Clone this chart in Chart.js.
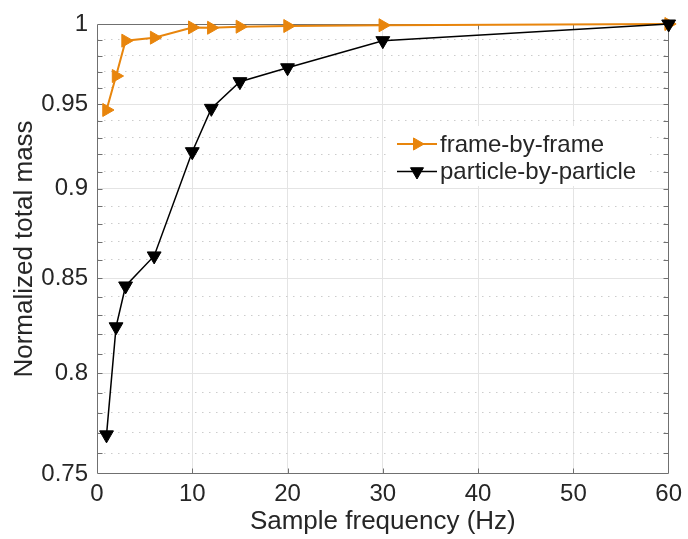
<!DOCTYPE html>
<html>
<head>
<meta charset="utf-8">
<script src="https://cdn.jsdelivr.net/npm/chart.js@4.4.0/dist/chart.umd.min.js"></script>
<style>
  html, body { margin: 0; padding: 0; background: #fff; }
</style>
</head>
<body>
<canvas id="myChart" width="688" height="539"></canvas>
<script>
// Sample frequency (Hz)
const freqs = [1, 2, 3, 6, 10, 12, 15, 20, 30, 60];
// Normalized total mass
const frameByFrame = [0.9465, 0.9673, 0.9894, 0.9913, 0.9978, 0.9976, 0.9983, 0.9987, 0.9992, 1.0];
const particleByParticle = [0.769, 0.824, 0.8458, 0.8622, 0.9216, 0.9475, 0.9638, 0.9724, 0.9894, 1.0];

// Axis ticks
const xTicks = [0, 10, 20, 30, 40, 50, 60];
const yMajor = [0.75, 0.8, 0.85, 0.9, 0.95, 1];
const yLabels = ['0.75', '0.8', '0.85', '0.9', '0.95', '1'];

// minor grid every 0.01 on the y axis
const yGrid = [];
for (let i = 75; i <= 100; i++) yGrid.push(i / 100);

const orange = '#e8850c';
const axisColor = '#707070';
const textColor = '#262626';
const fontFamily = "'Liberation Sans', Arial, Helvetica, sans-serif";

function majorIndex(v) {
    return yMajor.findIndex(m => Math.abs(m - v) < 1e-6);
}

// MATLAB-like box with inward tick marks
const axesBox = {
    id: 'axesBox',
    beforeDatasetsDraw(chart) {
        const { ctx, chartArea: a, scales: { x, y } } = chart;
        const L = Math.round(a.left) + 0.5, R = Math.round(a.right) - 0.5;
        const T = Math.round(a.top) + 0.5, B = Math.round(a.bottom) - 0.5;
        ctx.save();
        ctx.strokeStyle = axisColor;
        ctx.lineWidth = 1;
        ctx.beginPath();
        ctx.rect(L, T, R - L, B - T);
        yGrid.forEach(v => {
            if (v <= 0.75 || v >= 1) return;
            const py = Math.round(y.getPixelForValue(v)) + 0.5;
            ctx.moveTo(L, py); ctx.lineTo(L + 5, py);
            ctx.moveTo(R, py); ctx.lineTo(R - 5, py);
        });
        xTicks.forEach(v => {
            if (v === 0 || v === 60) return;
            const px = Math.round(x.getPixelForValue(v)) + 0.5;
            ctx.moveTo(px, B); ctx.lineTo(px, B - 5);
            ctx.moveTo(px, T); ctx.lineTo(px, T + 5);
        });
        ctx.stroke();
        ctx.restore();
    }
};

// legend drawn inside the axes
const insideLegend = {
    id: 'insideLegend',
    afterDraw(chart) {
        const { ctx } = chart;
        const x0 = 397, y0 = 144, rowH = 27.5;
        ctx.save();
        ctx.fillStyle = '#fff';
        ctx.fillRect(390, 126, 255, 60);
        chart.data.datasets.forEach((ds, i) => {
            const yy = y0 + i * rowH;
            ctx.strokeStyle = ds.borderColor;
            ctx.lineWidth = ds.borderWidth;
            ctx.beginPath();
            ctx.moveTo(x0, yy); ctx.lineTo(x0 + 40, yy);
            ctx.stroke();
            ctx.fillStyle = ds.borderColor;
            ctx.lineWidth = 1;
            Chart.helpers.drawPoint(ctx, {
                pointStyle: 'triangle', rotation: ds.pointRotation,
                radius: ds.pointRadius - 0.5, borderWidth: 1
            }, x0 + 20, yy);
            ctx.fillStyle = textColor;
            ctx.font = '24px ' + fontFamily;
            ctx.textBaseline = 'middle';
            ctx.textAlign = 'left';
            ctx.fillText(ds.label, x0 + 43, yy + 1);
        });
        ctx.restore();
    }
};

var ctx = document.getElementById('myChart').getContext('2d');
var chart = new Chart(ctx, {
    type: 'line',
    data: {
        datasets: [
            {
                label: 'frame-by-frame',
                data: freqs.map((f, i) => ({ x: f, y: frameByFrame[i] })),
                borderColor: orange,
                backgroundColor: orange,
                borderWidth: 2,
                pointStyle: 'triangle',
                pointRotation: 90,
                pointRadius: 7.5,
                pointBorderWidth: 1,
                pointBackgroundColor: orange,
                order: 1,
                clip: false
            },
            {
                label: 'particle-by-particle',
                data: freqs.map((f, i) => ({ x: f, y: particleByParticle[i] })),
                borderColor: '#000',
                backgroundColor: '#000',
                borderWidth: 1.5,
                pointStyle: 'triangle',
                pointRotation: 180,
                pointRadius: 8,
                pointBorderWidth: 1,
                pointBackgroundColor: '#000',
                order: 0,
                clip: false
            }
        ]
    },
    options: {
        responsive: false,
        animation: false,
        devicePixelRatio: 1,
        layout: { padding: { left: 0, top: 24, right: 15, bottom: 0 } },
        plugins: {
            legend: { display: false },
            tooltip: { enabled: false }
        },
        scales: {
            x: {
                type: 'linear',
                min: 0,
                max: 60,
                afterBuildTicks: s => { s.ticks = xTicks.map(v => ({ value: v })); },
                afterFit: s => { s.height = 65; },
                border: { display: false },
                grid: {
                    drawTicks: false,
                    lineWidth: 1,
                    color: c => (c.tick && c.tick.value > 0 && c.tick.value < 60) ? '#e4e4e4' : 'rgba(0,0,0,0)'
                },
                ticks: {
                    padding: 6,
                    color: textColor,
                    font: { family: fontFamily, size: 24 },
                    maxRotation: 0,
                    callback: v => String(v)
                },
                title: {
                    display: true,
                    text: 'Sample frequency (Hz)',
                    color: textColor,
                    font: { family: fontFamily, size: 26 },
                    padding: { top: 0, bottom: 2 }
                }
            },
            y: {
                type: 'logarithmic',
                min: 0.75,
                max: 1,
                afterBuildTicks: s => { s.ticks = yGrid.map(v => ({ value: v })); },
                afterFit: s => { s.width = 97; },
                border: {
                    display: false,
                    dash: c => (c.tick && majorIndex(c.tick.value) >= 0) ? [] : [1.5, 5.5]
                },
                grid: {
                    drawTicks: false,
                    lineWidth: 1,
                    color: c => {
                        if (!c.tick) return 'rgba(0,0,0,0)';
                        const v = c.tick.value;
                        if (v <= 0.7501 || v >= 0.9999) return 'rgba(0,0,0,0)';
                        return majorIndex(v) >= 0 ? '#e4e4e4' : '#cccccc';
                    }
                },
                ticks: {
                    padding: 9,
                    color: textColor,
                    font: { family: fontFamily, size: 24 },
                    autoSkip: false,
                    callback: v => {
                        const k = majorIndex(v);
                        return k >= 0 ? yLabels[k] : '';
                    }
                },
                title: {
                    display: true,
                    text: 'Normalized total mass',
                    color: textColor,
                    font: { family: fontFamily, size: 26 },
                    padding: { top: 9, bottom: 0 }
                }
            }
        }
    },
    plugins: [axesBox, insideLegend]
});
</script>
</body>
</html>
